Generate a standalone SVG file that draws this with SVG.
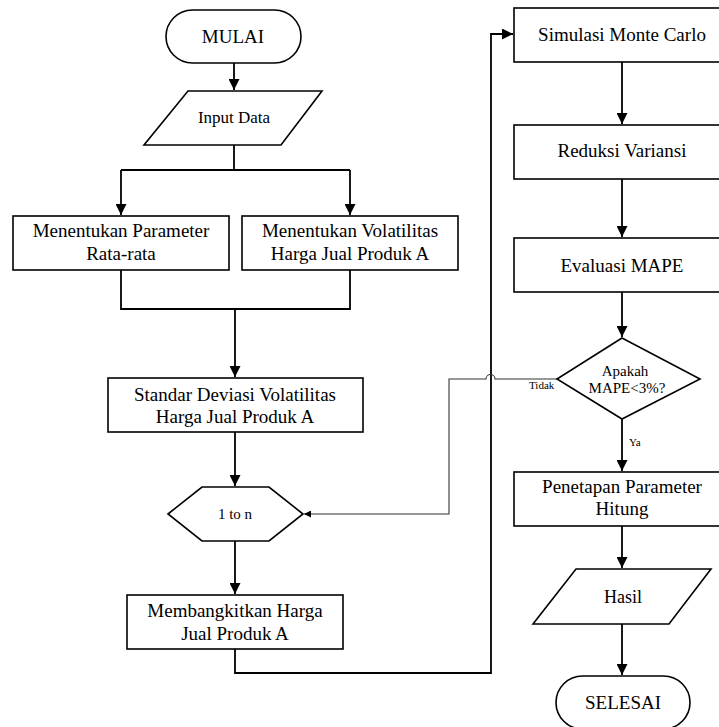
<svg xmlns="http://www.w3.org/2000/svg" width="719" height="727" viewBox="0 0 719 727">
<style>
.s{fill:#fff;stroke:#000;stroke-width:1.6}
.t{font-family:'Liberation Serif','Times New Roman','DejaVu Serif',serif;font-size:19px;fill:#000;text-anchor:middle}
.c{fill:none;stroke:#000;stroke-width:1.8}
.g{fill:none;stroke:#333;stroke-width:1.1}
.sm{font-family:'Liberation Serif','Times New Roman','DejaVu Serif',serif;font-size:11px;fill:#000}
</style>
<defs>
<marker id="a" viewBox="0 0 10 10" refX="10" refY="5" markerWidth="7" markerHeight="7" markerUnits="userSpaceOnUse" orient="auto"><path d="M0,0 L10,5 L0,10 z" fill="#000"/></marker>
<marker id="b" viewBox="0 0 10 10" refX="10" refY="5" markerWidth="11" markerHeight="11" markerUnits="userSpaceOnUse" orient="auto"><path d="M0,0 L10,5 L0,10 z" fill="#000"/></marker>
</defs>
<g id="connectors">
<path class="c" d="M234,63 V90" marker-end="url(#b)"/>
<path class="c" d="M234,145 V170 M121,170 H350"/>
<path class="c" d="M121,170 V215" marker-end="url(#b)"/>
<path class="c" d="M350,170 V215" marker-end="url(#b)"/>
<path class="c" d="M121,270 V309 H350 V270"/>
<path class="c" d="M235,309 V377" marker-end="url(#b)"/>
<path class="c" d="M235,432 V486" marker-end="url(#b)"/>
<path class="c" d="M235,541 V594" marker-end="url(#b)"/>
<path class="c" d="M235,649 V673 H491 V34 H513" marker-end="url(#b)"/>
<path class="c" d="M622,62 V124" marker-end="url(#b)"/>
<path class="c" d="M622,179 V237" marker-end="url(#b)"/>
<path class="c" d="M622,292 V337" marker-end="url(#b)"/>
<path class="c" d="M622,419 V471" marker-end="url(#b)"/>
<path class="c" d="M622,526 V568" marker-end="url(#b)"/>
<path class="c" d="M622,624 V675" marker-end="url(#b)"/>
<path class="g" d="M557,379 H495 A4.5,4.5 0 0 0 486,379 H449 V514 H304" marker-end="url(#a)"/>
<text class="sm" x="529" y="389">Tidak</text>
<text class="sm" x="629" y="446">Ya</text>
</g>
<g id="mulai"><rect class="s" x="166" y="10" width="135" height="53" rx="26.5"/><text class="t" x="233" y="43">MULAI</text></g>
<g id="input"><path class="s" d="M188,91 H322 L281,145 H144 Z"/><text class="t" x="234" y="123" style="font-size:17px">Input Data</text></g>
<g id="param"><rect class="s" x="13" y="216" width="216" height="54"/><text class="t" x="121" y="237">Menentukan Parameter</text><text class="t" x="121" y="260">Rata-rata</text></g>
<g id="volat"><rect class="s" x="242" y="216" width="216" height="54"/><text class="t" x="350" y="237">Menentukan Volatilitas</text><text class="t" x="350" y="260">Harga Jual Produk A</text></g>
<g id="standar"><rect class="s" x="108" y="378" width="255" height="54"/><text class="t" x="235" y="401">Standar Deviasi Volatilitas</text><text class="t" x="235" y="423">Harga Jual Produk A</text></g>
<g id="loop"><path class="s" d="M168,514 L202,487 H269 L303,514 L269,541 H202 Z"/><text class="t" x="235" y="519" style="font-size:15px">1 to n</text></g>
<g id="bangkit"><rect class="s" x="127" y="595" width="216" height="54"/><text class="t" x="235" y="617">Membangkitkan Harga</text><text class="t" x="235" y="640">Jual Produk A</text></g>
<g id="simulasi"><rect class="s" x="514" y="8" width="216" height="54"/><text class="t" x="622" y="41">Simulasi Monte Carlo</text></g>
<g id="reduksi"><rect class="s" x="514" y="125" width="216" height="54"/><text class="t" x="622" y="157">Reduksi Variansi</text></g>
<g id="evaluasi"><rect class="s" x="514" y="238" width="216" height="54"/><text class="t" x="622" y="272">Evaluasi MAPE</text></g>
<g id="apakah"><path class="s" d="M622,338 L700,379 L622,419 L557,379 Z"/><text class="t" x="625" y="376" style="font-size:15px">Apakah</text><text class="t" x="627" y="393" style="font-size:15px">MAPE&lt;3%?</text></g>
<g id="penetapan"><rect class="s" x="514" y="472" width="216" height="54"/><text class="t" x="622" y="493">Penetapan Parameter</text><text class="t" x="622" y="515">Hitung</text></g>
<g id="hasil"><path class="s" d="M576,569 H711 L669,624 H533 Z"/><text class="t" x="623" y="603" style="font-size:18px">Hasil</text></g>
<g id="selesai"><rect class="s" x="556" y="676" width="134" height="53" rx="26.5"/><text class="t" x="623" y="709">SELESAI</text></g>
</svg>
